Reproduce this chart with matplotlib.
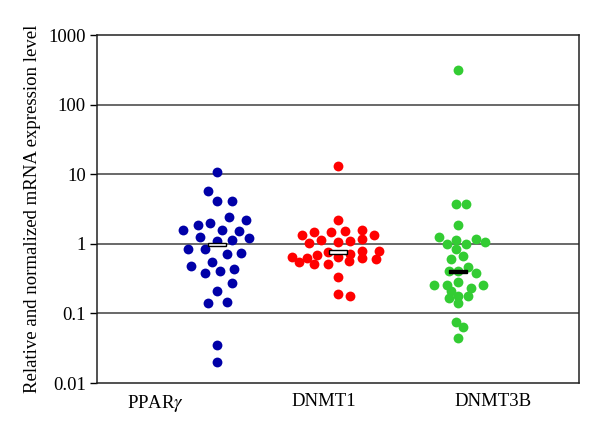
import matplotlib
matplotlib.use("Agg")
import matplotlib.pyplot as plt
from matplotlib.patches import Rectangle

# valores (nivel de expresion relativo)
ppar_y = [10.7, 5.7, 4.09, 4.09, 2.44, 2.18, 1.87, 1.98, 1.60, 1.57,
          1.55, 1.26, 1.22, 1.11, 1.13, 0.85, 0.85, 0.72, 0.74, 0.55,
          0.48, 0.38, 0.40, 0.43, 0.27, 0.21, 0.143, 0.148, 0.035, 0.020]
ppar_x = [217, 208, 217, 232, 229, 246, 198, 210, 183, 222,
          239, 200, 249, 217, 232, 188, 205, 227, 241, 212,
          191, 205, 220, 234, 232, 217, 208, 227, 217, 217]

dnmt1_y = [13.0, 2.23, 1.32, 1.50, 1.47, 1.55, 1.59, 1.36, 1.04, 1.14,
           1.07, 1.09, 1.19, 0.64, 0.54, 0.63, 0.51, 0.69, 0.76, 0.52,
           0.64, 0.72, 0.56, 0.80, 0.62, 0.80, 0.61, 0.33, 0.19, 0.18]
dnmt1_x = [338, 338, 302, 314, 331, 345, 362, 374, 309, 321,
           338, 350, 362, 292, 299, 307, 314, 317, 328, 328,
           338, 350, 349, 362, 362, 379, 376, 338, 338, 350]

dnmt3b_y = [309, 3.76, 3.76, 1.89, 1.24, 0.98, 1.12, 1.0, 1.18, 1.07,
            0.83, 0.61, 0.66, 0.40, 0.41, 0.46, 0.38, 0.254, 0.26, 0.28,
            0.26, 0.21, 0.23, 0.168, 0.18, 0.177, 0.14, 0.075, 0.063, 0.044]
dnmt3b_x = [458, 456, 466, 458, 439, 447, 456, 466, 476, 485,
            456, 451, 463, 449, 458, 468, 476, 434, 447, 458,
            483, 451, 471, 449, 458, 468, 458, 456, 463, 458]

medianas = [0.98, 0.76, 0.40]
mediana_x = [217, 338, 458]

etiquetas = ["PPAR$\\gamma$", "DNMT1", "DNMT3B"]
etiqueta_x = [156, 324, 493]

def main():
    plt.rcParams['font.family'] = ['Liberation Serif', 'DejaVu Serif']
    plt.rcParams['mathtext.fontset'] = 'stix'

    fig = plt.figure(figsize=(6, 4.3), dpi=100)
    ax = fig.add_axes([97/600, 1-383/430, 482/600, (383-35)/430])

    ax.set_yscale('log')
    ax.set_ylim(0.01, 1000)
    ax.set_xlim(97, 579)

    for nivel in [0.1, 1, 10, 100]:
        ax.axhline(nivel, color='#404040', lw=1.1, zorder=1)

    ax.scatter(ppar_x, ppar_y, s=50, color='#0000A8', zorder=3, linewidths=0)
    ax.scatter(dnmt1_x, dnmt1_y, s=50, color='#FF0000', zorder=3, linewidths=0)
    ax.scatter(dnmt3b_x, dnmt3b_y, s=50, color='#33CC33', zorder=3, linewidths=0)

    # barras de mediana
    estilos = [('white', 'black'), ('white', 'black'), ('black', 'black')]
    for xm, ym, (cara, borde) in zip(mediana_x, medianas, estilos):
        rect = Rectangle((xm - 9, ym / 1.055), 18, ym * 1.055 - ym / 1.055,
                         facecolor=cara, edgecolor=borde, lw=1.0, zorder=4)
        ax.add_patch(rect)

    ax.set_yticks([0.01, 0.1, 1, 10, 100, 1000])
    ax.set_yticklabels(["0.01", "0.1", "1", "10", "100", "1000"])
    ax.minorticks_off()
    ax.tick_params(axis='y', direction='out', length=5, width=1, labelsize=13.5, pad=3)

    ax.set_xticks(etiqueta_x)
    ax.set_xticklabels(etiquetas)
    ax.tick_params(axis='x', length=0, labelsize=13.5, pad=7)

    for lado in ax.spines.values():
        lado.set_linewidth(1.1)
        lado.set_color('#222222')

    ax.set_ylabel("Relative and normalized mRNA expression level", fontsize=13.5, labelpad=5)

    fig.savefig("out.png", dpi=100)

main()
